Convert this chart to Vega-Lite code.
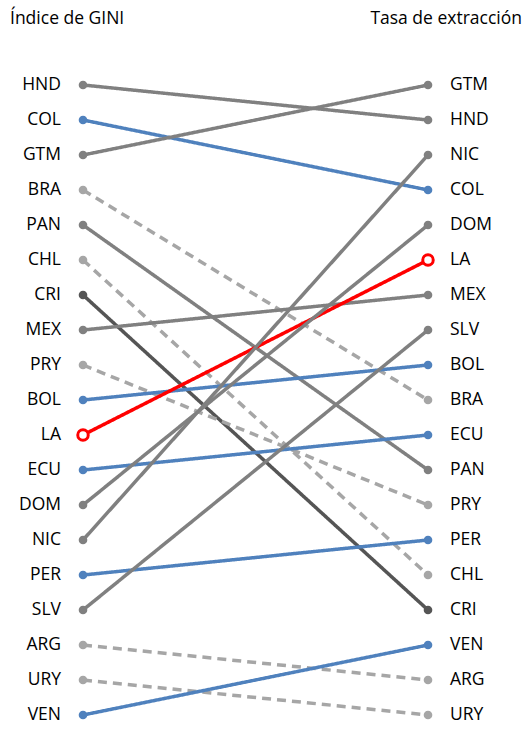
{
  "$schema": "https://vega.github.io/schema/vega-lite/v6.json",
  "width": 526,
  "height": 730,
  "autosize": "none",
  "padding": 0,
  "datasets": {
    "ranks": [
      {"c": "HND", "side": 0, "rank": 1, "g": "gray"}, {"c": "HND", "side": 1, "rank": 2, "g": "gray"},
      {"c": "COL", "side": 0, "rank": 2, "g": "blue"}, {"c": "COL", "side": 1, "rank": 4, "g": "blue"},
      {"c": "GTM", "side": 0, "rank": 3, "g": "gray"}, {"c": "GTM", "side": 1, "rank": 1, "g": "gray"},
      {"c": "BRA", "side": 0, "rank": 4, "g": "light"}, {"c": "BRA", "side": 1, "rank": 10, "g": "light"},
      {"c": "PAN", "side": 0, "rank": 5, "g": "gray"}, {"c": "PAN", "side": 1, "rank": 12, "g": "gray"},
      {"c": "CHL", "side": 0, "rank": 6, "g": "light"}, {"c": "CHL", "side": 1, "rank": 15, "g": "light"},
      {"c": "CRI", "side": 0, "rank": 7, "g": "dark"}, {"c": "CRI", "side": 1, "rank": 16, "g": "dark"},
      {"c": "MEX", "side": 0, "rank": 8, "g": "gray"}, {"c": "MEX", "side": 1, "rank": 7, "g": "gray"},
      {"c": "PRY", "side": 0, "rank": 9, "g": "light"}, {"c": "PRY", "side": 1, "rank": 13, "g": "light"},
      {"c": "BOL", "side": 0, "rank": 10, "g": "blue"}, {"c": "BOL", "side": 1, "rank": 9, "g": "blue"},
      {"c": "LA", "side": 0, "rank": 11, "g": "red"}, {"c": "LA", "side": 1, "rank": 6, "g": "red"},
      {"c": "ECU", "side": 0, "rank": 12, "g": "blue"}, {"c": "ECU", "side": 1, "rank": 11, "g": "blue"},
      {"c": "DOM", "side": 0, "rank": 13, "g": "gray"}, {"c": "DOM", "side": 1, "rank": 5, "g": "gray"},
      {"c": "NIC", "side": 0, "rank": 14, "g": "gray"}, {"c": "NIC", "side": 1, "rank": 3, "g": "gray"},
      {"c": "PER", "side": 0, "rank": 15, "g": "blue"}, {"c": "PER", "side": 1, "rank": 14, "g": "blue"},
      {"c": "SLV", "side": 0, "rank": 16, "g": "gray"}, {"c": "SLV", "side": 1, "rank": 8, "g": "gray"},
      {"c": "ARG", "side": 0, "rank": 17, "g": "light"}, {"c": "ARG", "side": 1, "rank": 18, "g": "light"},
      {"c": "URY", "side": 0, "rank": 18, "g": "light"}, {"c": "URY", "side": 1, "rank": 19, "g": "light"},
      {"c": "VEN", "side": 0, "rank": 19, "g": "blue"}, {"c": "VEN", "side": 1, "rank": 17, "g": "blue"}
    ],
    "titles": [
      {"t": "Índice de GINI", "side": 0, "rank": -0.9},
      {"t": "Tasa de extracción", "side": 1, "rank": -0.9}
    ]
  },
  "data": {"name": "ranks"},
  "encoding": {
    "x": {"field": "side", "type": "quantitative", "scale": {"domain": [0, 1], "range": [83, 428]}, "axis": null},
    "y": {"field": "rank", "type": "quantitative", "scale": {"domain": [1, 19], "range": [85, 715], "zero": false, "nice": false}, "axis": null}
  },
  "layer": [
    {
      "mark": {"type": "line", "strokeWidth": 3.5},
      "encoding": {
        "detail": {"field": "c"},
        "color": {"field": "g", "type": "nominal", "legend": null,
          "scale": {"domain": ["gray", "blue", "light", "dark", "red"], "range": ["#808080", "#4f81bd", "#a6a6a6", "#555555", "#ff0000"]}},
        "strokeDash": {"field": "g", "type": "nominal", "legend": null,
          "scale": {"domain": ["gray", "blue", "light", "dark", "red"], "range": [[1, 0], [1, 0], [9, 6], [1, 0], [1, 0]]}}
      }
    },
    {
      "transform": [{"filter": "datum.g != 'red'"}],
      "mark": {"type": "circle", "size": 75, "opacity": 1},
      "encoding": {
        "color": {"field": "g", "type": "nominal", "legend": null}
      }
    },
    {
      "transform": [{"filter": "datum.g == 'red'"}],
      "mark": {"type": "point", "shape": "circle", "size": 110, "filled": true, "fill": "white", "stroke": "#ff0000", "strokeWidth": 3, "opacity": 1}
    },
    {
      "transform": [{"filter": "datum.side == 0"}],
      "mark": {"type": "text", "align": "right", "dx": -22, "font": "Open Sans", "fontSize": 17.5, "color": "#000"},
      "encoding": {"text": {"field": "c"}}
    },
    {
      "transform": [{"filter": "datum.side == 1"}],
      "mark": {"type": "text", "align": "left", "dx": 22, "font": "Open Sans", "fontSize": 17.5, "color": "#000"},
      "encoding": {"text": {"field": "c"}}
    },
    {
      "data": {"name": "titles"},
      "transform": [{"filter": "datum.side == 0"}],
      "mark": {"type": "text", "align": "left", "dx": -73, "font": "Open Sans", "fontSize": 17.5, "color": "#000"},
      "encoding": {"text": {"field": "t"}}
    },
    {
      "data": {"name": "titles"},
      "transform": [{"filter": "datum.side == 1"}],
      "mark": {"type": "text", "align": "right", "dx": 94, "font": "Open Sans", "fontSize": 17.5, "color": "#000"},
      "encoding": {"text": {"field": "t"}}
    }
  ],
  "config": {"view": {"stroke": null}}
}
